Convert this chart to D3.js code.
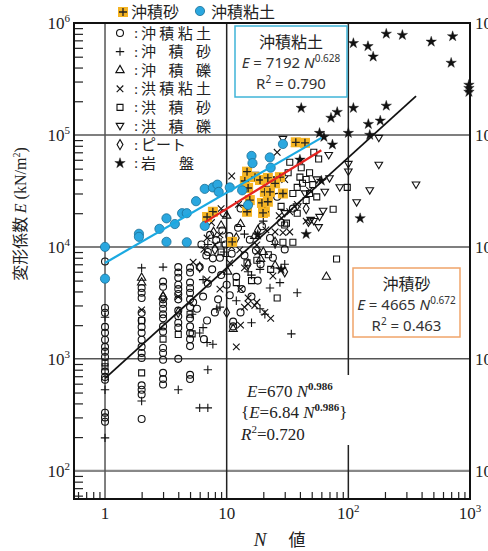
<!DOCTYPE html>
<meta charset="utf-8">
<style>
body { margin: 0; background: #fff; }
svg { display: block; }
.tlab { font-family: "Liberation Serif", serif; font-size: 17px; fill: #222; }
.jp { font-family: "Noto Sans CJK JP", sans-serif; fill: #222; }
.box { font-family: "Noto Sans", sans-serif; font-size: 15px; fill: #333; }
</style>
<body>
<script src="https://d3js.org/d3.v7.min.js"></script>
<script>
// ---- data: [N, E] pairs ----
var clayAlluvial = [ // ○ 沖積粘土
  [1,7400],[1,2850],[1,2580],[1,1930],[1,1710],[1,1480],[1,1280],[1,1160],[1,1040],[1,770],[1,690],[1,650],[1,330],[1,300],[1,274],
  [2,4300],[2,3900],[2,3500],[2,2580],[2,2200],[2,1930],[2,1710],[2,1480],[2,1280],[2,1130],[2,1020],[2,580],[2,530],[2,480],[2,290],
  [3,4900],[3,4400],[3,3400],[3,3100],[3,2800],[3,2500],[3,2300],[3,1950],[3,1750],[3,1250],[3,1130],[3,980],[3,750],[3,660],[3,590],
  [4,6600],[4,5900],[4,5300],[4,4600],[4,4200],[4,3800],[4,3400],[4,2700],[4,2400],[4,2100],[4,1900],[4,1000],
  [5,6500],[5,5900],[5,4800],[5,4300],[5,3900],[5,3400],[5,2900],[5,2300],[5,1950],[5,1700],[5,1500],[5,1300],[5,720],[5,660],
  [6.8,8400],[7.7,7900],[8.8,8000],[7.6,6300],[6.4,3600],[8.5,3400],[10,4600],[13.3,4200],[16,3600],[11.3,1950],[6.9,2200],
  [5.7,2800],[10.6,3700],[5.3,3200],[7.3,12800],[9.2,14000],[12.4,14800],[15.5,11600],[19.5,15300],[22.7,12000],[14,8400],
  [17.4,9300],[28,16500],[6,6600],[9,5600],[12,5400],[18,5000],[7,4700],[8,2600],[13,2600],[6.5,1500],[24,8000],[30,9500],
  [11,8700],[19,7000],[35,22000],[26,28000],[13,22000],[9.5,20000],[11.3,2150],
  [6.2,10500],[7,9000],[8.2,11500],[9.8,10500],[10.5,12500]
];
var sandAlluvial = [ // + 沖積砂
  [1,2350],[1,530],[1,197],[2,6500],[2,420],[3,6600],[4,530],[7,800],[6,365],[7,365],
  [22.7,4300],[27.4,4800],[38,3900],[34,1670],[16,5600],[20.6,2500],[18.8,6300],[15,6000],[8.3,2800],[6,1700],
  [6.9,1400],[7.7,1350],[6.4,1900],[5.2,2500],[8.8,2900],[18.8,2800],[6.4,5100],[10,8200],[14,13000],[20,17000],
  [12,3300],[25,10500],[16,2100],[9,11000],[30,7000],[7,10500],[9.5,9000]
];
var gravelAlluvial = [ // △ 沖積礫
  [2,5300],[2,4800],[11.3,1850],[66,5400],[10.2,6000],[19,7800],[3,3600],[13,16000],[9,15500],[20,9000],[17,12500],[25,6800],[10,19000]
];
var clayDiluvial = [ // × 洪積粘土
  [2,2740],[11,43000],[26,70000],[36,84000],[8.8,12800],[6.9,12000],[11,10000],[12,1280],[14,2900],[17.7,3200],
  [6.9,5100],[8.8,4200],[15,3100],[29,13400],[21,14200],[33,13600],[8,10400],[10.6,7200],[12.8,9400],[17.7,10400],
  [5.3,7300],[15,3500],[20.6,2600],[33,20600],[27,19000],[38,24000],[45,17000],[25,13600],[18,9000],[4,3600],
  [13,2000],[23,2300],[12.5,24000],[22,26000],[30,40000],[48,32000],[14,6500],[24,5500],[13,4200],[17,3000],
  [6.5,9500],[7.5,16500],[9,22000]
];
var sandDiluvial = [ // □ 洪積砂
  [33,57000],[57,61000],[48,46000],[98,34000],[75,21700],[40,42000],[42,37000],[51,36000],[32,46000],[35,30000],
  [28,23000],[31,16300],[26,3500],[80,7800],[23,6300],[29,11000],[35,11000],[30,15700],[14.7,7200],[17.7,7600],
  [5.2,1670],[4,1650],[2,2200],[2,750],[1,920],[1,850],[5,2500],[3,1500],[52,70000],[41,51000],[45,26000],
  [38,20000],[22,8500],[16,5000],[12,4800],[9,9000],[55,28000],[45,40000],[48,30000],[38,34000]
];
var gravelDiluvial = [ // ▽ 洪積礫
  [178,94000],[69,66000],[178,54000],[100,55000],[100,47000],[360,36000],[85,34000],[150,32000],[117,25000],[52,17000],
  [57,15000],[29,92000],[58,18500],[38,23000],[44,30000],[64,31000],[30,20000],[26,40000],[55,40000],[17,44000],
  [22,33000],[70,41000],[62,21000],[49,17400],[47,16500]
];
var peat = [ // ◇ ピート
  [6,6600],[3,3600],[8,9500],[12,12000],[20,21000],[25,11000],[10,2600],[15,7000],[30,6000],[18,14000],[4,2600],[45,22000],[7.8,13500]
];
var rock = [ // ★ 岩盤
  [205,800000],[278,780000],[480,680000],[720,760000],[110,660000],[145,620000],[160,500000],[700,440000],
  [980,280000],[980,262000],[980,242000],[41,174000],[72,142000],[81,160000],[110,174000],[205,182000],
  [146,125000],[183,134000],[100,104000],[150,100000],[58,104000],[63,96000],[74,82000],[125,18000],
  [18,12800],[28,6300],[45,13000],[60,39000],[40,60000]
];
var sandHighlight = [ // 沖積砂 (orange)
  [44,85000],[37,86000],[14.7,47000],[17.1,42000],[14.1,38800],[15,33600],[18.8,39600],[21.8,41300],[27.4,42000],
  [20.6,31000],[22.7,31000],[29,30000],[19.5,24700],[21.8,25300],[15.5,26200],[14.7,20600],[20.6,20600],[7.7,20600],
  [6.9,18500],[11.1,11100],[19.9,20100],[25,37000]
];
var clayHighlight = [ // 沖積粘土 (blue)
  [1,10000],[1,5200],[1.9,13100],[1.9,12300],[2.8,14500],[3.2,11100],[3.2,18000],[3.75,16000],[4.3,20000],[4.7,20000],
  [4.7,11000],[5.6,25600],[6.6,33000],[7.7,34000],[8.4,36000],[8.6,31000],[6.6,15400],[10.6,34000],[13.4,32000],
  [15,23700],[16,65000],[16.3,56000],[22.6,63000],[23,51000],[29,83000]
];
// fitted lines E = a N^b, drawn between N0 and N1
var fitCoef = [670, 7192, 4665];
var fitExp = [0.986, 0.628, 0.672];
var fitRange = [[1, 360], [1, 60], [6.6, 60]];
var fitColor = ["#111", "#1ba9e1", "#e52420"];

var legendNames = ["沖積粘土", "沖積砂", "沖積礫", "洪積粘土", "洪積砂", "洪積礫", "ピート", "岩盤"];
var legendShapes = ["circle", "plus", "tri", "cross", "square", "tridown", "diamond", "star"];
var yMajor = [1e2, 1e3, 1e4, 1e5, 1e6];
var yMajorExp = ["2", "3", "4", "5", "6"];
var xMajor = [1, 10, 100, 1000];
var xMajorLab = [["1", ""], ["10", ""], ["10", "2"], ["10", "3"]];

// ---- layout ----
var width = 488, height = 551;
var svg = d3.select("body").append("svg").attr("width", width).attr("height", height);

var x = d3.scaleLog().domain([0.556, 1000]).range([74, 470]);
var y = d3.scaleLog().domain([56, 1e6]).range([499, 23]);

// grid lines
svg.append("g").selectAll("line").data([1e2, 1e3, 1e4, 1e5]).join("line")
  .attr("x1", 74).attr("x2", 470).attr("y1", d => y(d)).attr("y2", d => y(d))
  .attr("stroke", d => d === 1e2 ? "#888" : "#555").attr("stroke-width", d => d === 1e2 ? 2.2 : 1.5);
svg.append("g").selectAll("line").data([1, 10, 100]).join("line")
  .attr("x1", d => x(d)).attr("x2", d => x(d)).attr("y1", 23).attr("y2", 499)
  .attr("stroke", d => d === 1 ? "#555" : "#222").attr("stroke-width", 1.5);

// minor ticks (inward)
var yMinor = y.ticks().filter(v => yMajor.indexOf(v) < 0);
svg.append("g").attr("transform", "translate(74,0)")
  .call(d3.axisLeft(y).tickValues(yMinor).tickSize(-9).tickFormat(""))
  .call(g => g.select(".domain").remove())
  .selectAll("line").attr("stroke", "#222").attr("stroke-width", 1.2);
var xMinor = x.ticks().filter(v => xMajor.indexOf(v) < 0);
svg.append("g").attr("transform", "translate(0,499)")
  .call(d3.axisBottom(x).tickValues(xMinor).tickSize(-7).tickFormat(""))
  .call(g => g.select(".domain").remove())
  .selectAll("line").attr("stroke", "#222").attr("stroke-width", 1.2);

// white box behind the overall regression text
svg.append("rect").attr("x", 238).attr("y", 375).attr("width", 138).attr("height", 70).attr("fill", "#fff");

// frame
svg.append("rect").attr("x", 74).attr("y", 23).attr("width", 396).attr("height", 476)
  .attr("fill", "none").attr("stroke", "#111").attr("stroke-width", 2);

// ---- markers ----
function shapePath(s) {
  if (s === "circle") return d3.symbol(d3.symbolCircle, 38)();
  if (s === "plus") return "M-4.2,0H4.2M0,-4.2V4.2";
  if (s === "cross") return "M-3.3,-3.3L3.3,3.3M-3.3,3.3L3.3,-3.3";
  if (s === "square") return d3.symbol(d3.symbolSquare, 36)();
  if (s === "tri") return d3.symbol(d3.symbolTriangle, 30)();
  if (s === "tridown") return "M-3.8,-2.6H3.8L0,3.8Z";
  if (s === "diamond") return d3.symbol(d3.symbolDiamond, 30)();
  if (s === "star") return d3.symbol(d3.symbolStar, 34)();
}
var blackSets = [clayAlluvial, sandAlluvial, gravelAlluvial, clayDiluvial, sandDiluvial, gravelDiluvial, peat, rock];
var pts = svg.append("g");
blackSets.forEach(function(set, i) {
  var s = legendShapes[i];
  pts.append("g").selectAll("path").data(set).join("path")
    .attr("transform", d => "translate(" + x(d[0]) + "," + y(d[1]) + ")")
    .attr("d", shapePath(s))
    .attr("fill", s === "star" ? "#111" : "none")
    .attr("stroke", "#111").attr("stroke-width", s === "star" ? 0.4 : 1.1);
});

// highlighted alluvial sand (orange)
var og = svg.append("g").selectAll("g").data(sandHighlight).join("g")
  .attr("transform", d => "translate(" + x(d[0]) + "," + y(d[1]) + ")");
og.append("rect").attr("x", -5).attr("y", -5).attr("width", 10).attr("height", 10).attr("fill", "#f5b423");
og.append("path").attr("d", "M-4,0H4M0,-4V4").attr("stroke", "#222").attr("stroke-width", 1.3);

// highlighted alluvial clay (blue)
svg.append("g").selectAll("circle").data(clayHighlight).join("circle")
  .attr("cx", d => x(d[0])).attr("cy", d => y(d[1])).attr("r", 4.6)
  .attr("fill", "#2aa7df").attr("stroke", "#1b6e95").attr("stroke-width", 0.8);

// regression lines
var line = d3.line().x(d => x(d[0])).y(d => y(d[1]));
fitCoef.forEach(function(a, i) {
  var ends = fitRange[i].map(n => [n, a * Math.pow(n, fitExp[i])]);
  svg.append("path").datum(ends).attr("d", line)
    .attr("stroke", fitColor[i]).attr("stroke-width", i === 0 ? 1.8 : 2.2).attr("fill", "none");
});

// ---- legend (inside plot) ----
var lg = svg.append("g");
legendNames.forEach(function(name, i) {
  var cy = 33 + i * 18.6;
  lg.append("path").attr("transform", "translate(120," + cy + ")")
    .attr("d", shapePath(legendShapes[i]))
    .attr("fill", legendShapes[i] === "star" ? "#111" : "none")
    .attr("stroke", "#111").attr("stroke-width", legendShapes[i] === "star" ? 0.4 : 1.1);
  lg.append("text").attr("x", 134).attr("y", cy + 5).attr("font-family", "Liberation Serif, serif")
    .attr("font-size", 15).attr("fill", "#222").text(":");
  var t = lg.append("text").attr("class", "jp").attr("x", 141).attr("y", cy + 5.5).attr("font-size", 15).text(name);
  if (name.length === 4) t.attr("textLength", 70).attr("lengthAdjust", "spacing");
  if (name.length === 3 && name !== "ピート") t.attr("textLength", 70).attr("lengthAdjust", "spacing");
  if (name.length === 2) t.attr("textLength", 53).attr("lengthAdjust", "spacing");
});

// top legend
var tl = svg.append("g");
tl.append("rect").attr("x", 118).attr("y", 7).attr("width", 10).attr("height", 10).attr("fill", "#f5b423");
tl.append("path").attr("d", "M119,12H127M123,8V16").attr("stroke", "#222").attr("stroke-width", 1.3);
tl.append("text").attr("class", "jp").attr("x", 131).attr("y", 18).attr("font-size", 16).text("沖積砂");
tl.append("circle").attr("cx", 200).attr("cy", 11).attr("r", 4.6).attr("fill", "#2aa7df").attr("stroke", "#1b6e95").attr("stroke-width", 0.8);
tl.append("text").attr("class", "jp").attr("x", 211).attr("y", 18).attr("font-size", 16).text("沖積粘土");

// ---- equation boxes ----
function eqBox(bx, by, bw, bh, color, title, coef, expo, r2) {
  var g = svg.append("g");
  g.append("rect").attr("x", bx).attr("y", by).attr("width", bw).attr("height", bh)
    .attr("fill", "#fff").attr("stroke", color).attr("stroke-width", 1.5);
  var cx = bx + bw / 2;
  g.append("text").attr("class", "jp").attr("x", cx).attr("y", by + 22).attr("font-size", 16)
    .attr("text-anchor", "middle").text(title);
  var e = g.append("text").attr("class", "box").attr("x", cx).attr("y", by + 42).attr("text-anchor", "middle");
  e.append("tspan").attr("font-style", "italic").text("E");
  e.append("tspan").text(" = " + coef + " ");
  e.append("tspan").attr("font-style", "italic").text("N");
  e.append("tspan").attr("dy", -6).attr("font-size", 10).text(expo);
  var r = g.append("text").attr("class", "box").attr("x", cx).attr("y", by + 63).attr("text-anchor", "middle");
  r.append("tspan").text("R");
  r.append("tspan").attr("dy", -6).attr("font-size", 10).text("2");
  r.append("tspan").attr("dy", 6).text(" = " + r2);
}
eqBox(235, 26, 112, 71, "#3fb4d8", "沖積粘土", "7192", "0.628", "0.790");
eqBox(353, 268, 107, 69, "#f0a46a", "沖積砂", "4665", "0.672", "0.463");

// overall regression text
var serif = "Liberation Serif, serif";
var t1 = svg.append("text").attr("x", 247).attr("y", 397).attr("font-family", serif).attr("font-size", 17).attr("fill", "#222");
t1.append("tspan").attr("font-style", "italic").text("E");
t1.append("tspan").text("=670  ");
t1.append("tspan").attr("font-style", "italic").text("N");
t1.append("tspan").attr("dy", -7).attr("font-size", 11).attr("font-weight", "bold").text("0.986");
var t2 = svg.append("text").attr("x", 241).attr("y", 418).attr("font-family", serif).attr("font-size", 17).attr("fill", "#222");
t2.append("tspan").text("{");
t2.append("tspan").attr("font-style", "italic").text("E");
t2.append("tspan").text("=6.84  ");
t2.append("tspan").attr("font-style", "italic").text("N");
t2.append("tspan").attr("dy", -7).attr("font-size", 11).attr("font-weight", "bold").text("0.986");
t2.append("tspan").attr("dy", 7).text("}");
var t3 = svg.append("text").attr("x", 241).attr("y", 440).attr("font-family", serif).attr("font-size", 17).attr("fill", "#222");
t3.append("tspan").attr("font-style", "italic").text("R");
t3.append("tspan").attr("dy", -7).attr("font-size", 11).text("2");
t3.append("tspan").attr("dy", 7).text("=0.720");

// ---- tick labels ----
yMajor.forEach(function(v, i) {
  var t = svg.append("text").attr("class", "tlab").attr("x", 70).attr("y", y(v) + 6).attr("text-anchor", "end");
  t.append("tspan").text("10");
  t.append("tspan").attr("dy", -7).attr("font-size", 11).text(yMajorExp[i]);
  // right-hand copy, cut by the page edge as in the source
  var r = svg.append("text").attr("class", "tlab").attr("x", 475).attr("y", y(v) + 6);
  r.append("tspan").text("10");
  r.append("tspan").attr("dy", -7).attr("font-size", 11).text(yMajorExp[i]);
});
xMajor.forEach(function(v, i) {
  var t = svg.append("text").attr("class", "tlab").attr("x", x(v)).attr("y", 519).attr("text-anchor", "middle");
  t.append("tspan").text(xMajorLab[i][0]);
  if (xMajorLab[i][1]) t.append("tspan").attr("dy", -7).attr("font-size", 11).text(xMajorLab[i][1]);
});

// axis titles
svg.append("text").attr("x", 260).attr("y", 546).attr("font-family", serif).attr("font-style", "italic")
  .attr("font-size", 19).attr("fill", "#222").attr("text-anchor", "middle").text("N");
svg.append("text").attr("class", "jp").attr("x", 297).attr("y", 546).attr("font-size", 17)
  .attr("text-anchor", "middle").text("値");
var yl = svg.append("text").attr("transform", "translate(26,214) rotate(-90)").attr("text-anchor", "middle")
  .attr("font-size", 16).attr("fill", "#222");
yl.append("tspan").attr("font-family", "Noto Sans CJK JP, sans-serif").text("変形係数 ");
yl.append("tspan").attr("font-family", serif).attr("font-style", "italic").text(" E ");
yl.append("tspan").attr("font-family", serif).text("(kN/m");
yl.append("tspan").attr("font-family", serif).attr("dy", -6).attr("font-size", 10).text("2");
yl.append("tspan").attr("font-family", serif).attr("dy", 6).text(")");
</script>
</body>
